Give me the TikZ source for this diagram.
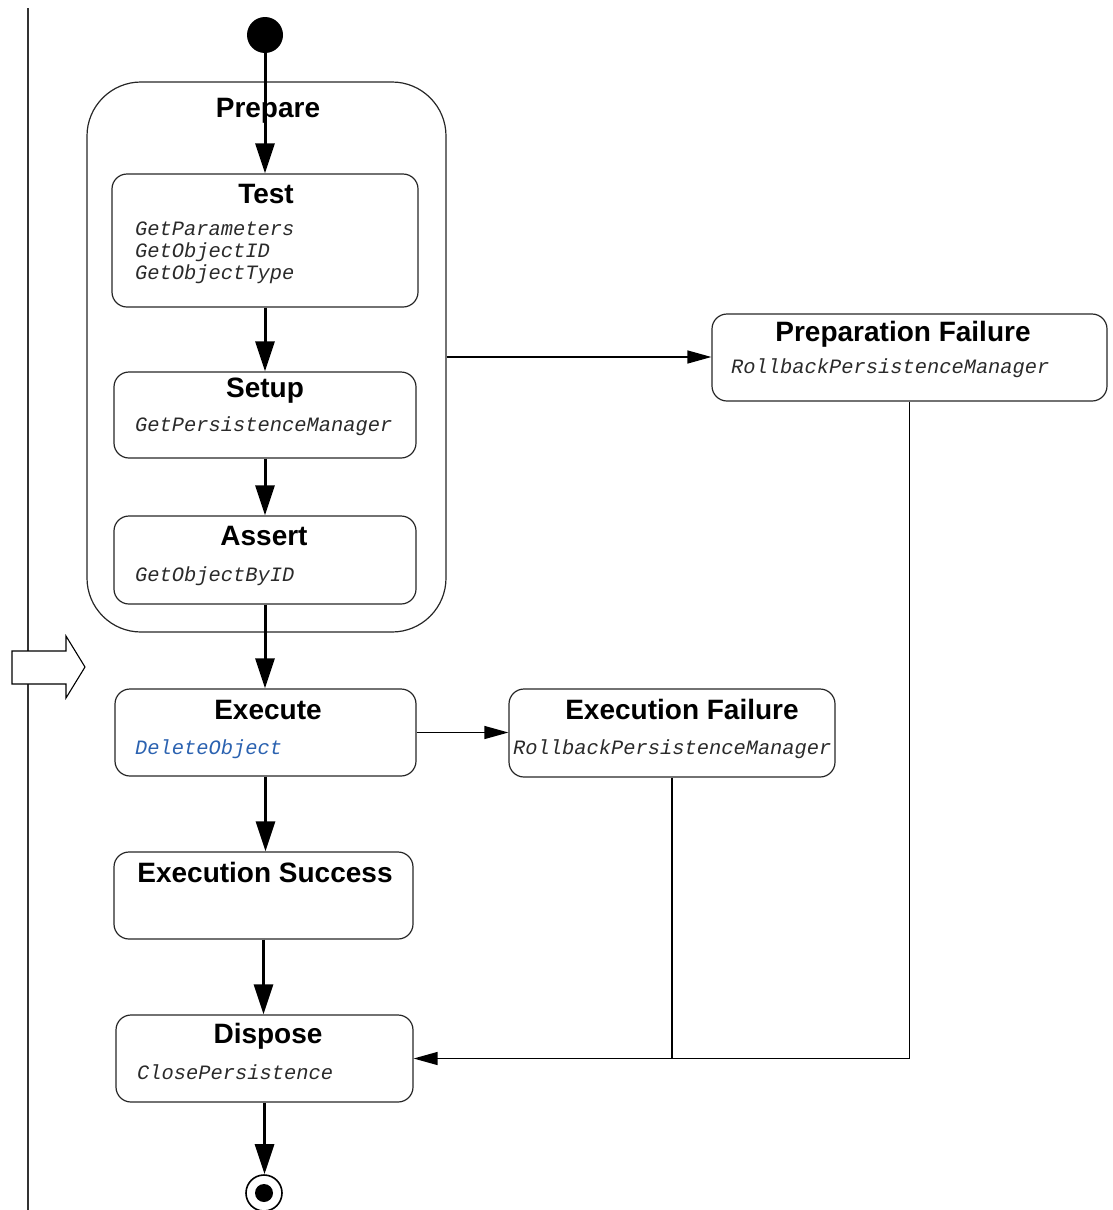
\documentclass[tikz,border=0pt]{standalone}
\usepackage{fontspec}
\setmainfont{Liberation Sans}
\newfontfamily\codefont{Liberation Mono}
\usetikzlibrary{arrows.meta}

\definecolor{calltext}{HTML}{2A2A2A}
\definecolor{callblue}{HTML}{2B62B0}

\tikzset{
  state/.style={draw=black!85, line width=1.2pt, rounded corners=15pt, inner sep=0pt},
  title/.style={font=\fontsize{28}{30}\selectfont\bfseries, anchor=base, inner sep=0pt},
  code/.style={font=\fontsize{20.4}{22}\selectfont\codefont\itshape, anchor=base west, inner sep=0pt, text=calltext},
  flow/.style={line width=3pt, -{Triangle[length=30pt,width=19pt]}},
  thinflow/.style={line width=1.3pt, -{Triangle[length=24pt,width=13pt]}},
  plainline/.style={line width=1.3pt},
}

\begin{document}
\begin{tikzpicture}[x=1pt, y=-1pt]
  \useasboundingbox (0,0) rectangle (1113,1210);

  % swimlane edge and phase marker
  \draw[line width=1.1pt, black!80] (28,8) -- (28,1210);
  \draw[line width=1.1pt, fill=white] (12,651) -- (66,651) -- (66,636) -- (85,667)
        -- (66,698) -- (66,684) -- (12,684) -- cycle;

  % initial and final states
  \node[circle, fill, minimum size=36pt, inner sep=0pt] (start) at (265,35) {};
  \node[circle, draw, line width=1.6pt, minimum size=36pt, inner sep=0pt] (stop) at (264,1193) {};
  \node[circle, fill, minimum size=18pt, inner sep=0pt] (stopdot) at (stop) {};

  % composite state
  \node[state, rounded corners=54pt, minimum width=359pt, minimum height=550pt] (prepare) at (266.5,357) {};
  \node[title] (prepareT) at (268,117) {Prepare};

  % Test
  \node[state, minimum width=306pt, minimum height=133pt] (test) at (265,240.5) {};
  \node[title] (testT) at (266,203) {Test};
  \node[code] (testA) at (135,235) {GetParameters};
  \node[code] (testB) at (135,257) {GetObjectID};
  \node[code] (testC) at (135,279) {GetObjectType};

  % Setup
  \node[state, minimum width=302pt, minimum height=86pt] (setup) at (265,415) {};
  \node[title] (setupT) at (265,397) {Setup};
  \node[code] (setupA) at (135,431) {GetPersistenceManager};

  % Assert
  \node[state, minimum width=302pt, minimum height=88pt] (assert) at (265,560) {};
  \node[title] (assertT) at (264,545) {Assert};
  \node[code] (assertA) at (135,581) {GetObjectByID};

  % Execute
  \node[state, minimum width=301pt, minimum height=87pt] (execute) at (265.5,732.5) {};
  \node[title] (executeT) at (268,719) {Execute};
  \node[code, text=callblue] (executeA) at (135,754) {DeleteObject};

  % Execution Failure
  \node[state, minimum width=326pt, minimum height=88pt] (execfail) at (672,733) {};
  \node[title] (execfailT) at (682,719) {Execution Failure};
  \node[code] (execfailA) at (513,754) {RollbackPersistenceManager};

  % Preparation Failure
  \node[state, minimum width=395pt, minimum height=87pt] (prepfail) at (909.5,357.5) {};
  \node[title] (prepfailT) at (903,341) {Preparation Failure};
  \node[code] (prepfailA) at (731,373) {RollbackPersistenceManager};

  % Execution Success
  \node[state, minimum width=299pt, minimum height=87pt] (success) at (263.5,895.5) {};
  \node[title] (successT) at (265,882) {Execution Success};

  % Dispose
  \node[state, minimum width=297pt, minimum height=87pt] (dispose) at (264.5,1058.5) {};
  \node[title] (disposeT) at (268,1043) {Dispose};
  \node[code] (disposeA) at (137,1079) {ClosePersistence};

  % main flow
  \draw[flow] (start.center) -- (start.center |- test.north);
  \draw[flow] (test.south) -- (test.south |- setup.north);
  \draw[flow] (setup.south) -- (setup.south |- assert.north);
  \draw[flow] (assert.south) -- (assert.south |- execute.north);
  \draw[flow] (execute.south) -- (execute.south |- success.north);
  \draw[flow] (success.south) -- (success.south |- dispose.north);
  \draw[flow] (dispose.south) -- (dispose.south |- stop.north);

  % failure paths
  \draw[thinflow] (prepare.east) -- (prepare.east -| prepfail.west);
  \draw[thinflow] (execute.east) -- (execute.east -| execfail.west);
  \draw[thinflow] (prepfail.south) |- (dispose.east);
  \draw[plainline] (execfail.south) -- (execfail.south |- dispose.east);
\end{tikzpicture}
\end{document}
